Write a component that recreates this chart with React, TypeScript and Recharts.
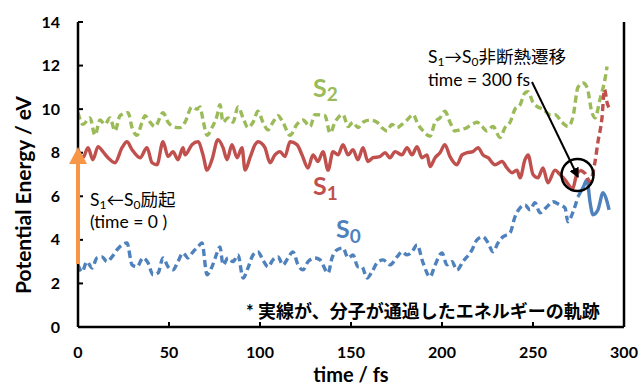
import { LineChart, Line, XAxis, YAxis } from "recharts"

// time (fs) / energy (eV)
const S2_T = [0, 2.7, 6.6, 9.3, 12.1, 14.8, 17.6, 20.3, 23.1, 27.5, 29.7, 32.4, 35.2, 36.8, 39.6, 42.3, 46.7, 49.5, 52.2, 56, 58.8, 62.6, 65.4, 67, 68.7, 70.9, 73.6, 76.4, 78, 79.7, 82.4, 85.2, 87.9, 90.7, 93.4, 96.2, 98.9, 101.6, 104.4, 107.1, 109.9, 112.6, 116.5, 120.3, 123.6, 127.5, 130.2, 135.7, 138.5, 141.2, 145.6, 148.4, 151.1, 153.8, 156.6, 160.4, 164.3, 167, 169.8, 172.5, 175.3, 178, 180.8, 184.1, 186.8, 189.6, 193.4, 196.2, 198.9, 201.6, 204.4, 207.1, 209.9, 213.7, 216.5, 219.2, 222, 224.7, 228, 231.9, 234.6, 237.4, 240.1, 242.9, 245.6, 247.3, 250, 252.7, 255.5, 259.3, 262.1, 265.9, 269.2, 272, 274.7, 277.5, 279.7, 282.4, 284.1, 286.8, 289.6, 290.7]
const S2_E = [9.84, 9.3, 9.6, 8.8, 9.5, 9.3, 9.6, 9.0, 9.7, 9.84, 9.15, 8.8, 9.4, 9.7, 9.4, 9.2, 9.84, 9.4, 9.2, 9.15, 9.4, 10.1, 10.0, 10.1, 9.5, 8.8, 9.15, 9.7, 10.2, 9.4, 9.6, 9.4, 10.1, 9.6, 9.15, 9.4, 9.9, 9.4, 9.05, 9.4, 9.7, 9.4, 8.8, 9.3, 9.5, 9.2, 9.75, 9.7, 8.9, 9.4, 9.75, 9.2, 9.4, 9.15, 9.4, 9.5, 9.4, 9.15, 9.0, 9.3, 9.15, 9.3, 9.5, 9.75, 9.3, 9.0, 8.75, 9.4, 9.6, 9.9, 9.4, 9.0, 9.05, 9.15, 9.3, 9.4, 9.2, 9.0, 9.2, 8.7, 9.15, 9.4, 10.0, 10.2, 10.75, 10.8, 10.3, 10.1, 10.0, 9.75, 9.75, 9.4, 9.2, 9.66, 11.0, 11.2, 11.0, 9.84, 9.6, 10.45, 11.4, 11.96]

const S1_T = [0, 2.7, 5.5, 8.2, 11, 13.7, 16.5, 20.3, 24.2, 26.9, 29.7, 34.1, 37.9, 40.7, 43.4, 46.7, 49.5, 52.2, 54.9, 57.7, 58.8, 62.6, 65.9, 68.7, 70.9, 73.6, 76.9, 79.7, 81.9, 84.6, 87.4, 90.1, 91.8, 94.5, 97.3, 98.9, 102.7, 105.5, 108.2, 111, 113.7, 116.5, 120.3, 123.1, 126.4, 129.1, 131.9, 134.6, 137.4, 140.1, 142.9, 145.6, 148.4, 151.1, 153.8, 156.6, 159.3, 162.1, 165.9, 168.7, 171.4, 174.2, 178, 180.8, 183.5, 186.3, 189, 191.8, 193.4, 196.2, 198.9, 201.6, 204.4, 208.2, 211, 213.7, 217, 219.8, 222.5, 225.3, 229.1, 233, 235.7, 238.5, 241.2, 242.9, 245.6, 247.3, 250, 252.7, 255.5, 258.2, 262.1, 264.8, 267.6, 270.3, 271.6, 274, 275.8, 278.6, 281.3, 284.1, 285.7, 287.9, 289.3, 290.7, 292.3]
const S1_E = [8.14, 7.77, 8.23, 7.68, 8.28, 8.05, 7.77, 7.54, 8.23, 8.5, 8.14, 7.77, 8.23, 7.54, 7.45, 8.5, 7.82, 8.05, 7.68, 8.23, 7.9, 8.37, 8.5, 7.9, 7.2, 7.68, 8.6, 8.23, 7.68, 8.37, 7.77, 8.23, 7.2, 7.77, 8.37, 8.5, 8.23, 7.54, 7.9, 8.05, 7.82, 8.5, 8.37, 7.9, 7.3, 7.9, 7.6, 8.05, 7.2, 8.05, 7.9, 8.37, 7.9, 8.14, 7.68, 8.23, 7.6, 7.77, 7.82, 8.0, 7.77, 8.05, 7.9, 8.23, 7.9, 8.28, 7.77, 7.9, 7.36, 7.77, 8.0, 8.37, 7.82, 7.45, 7.9, 8.0, 8.05, 8.23, 7.9, 7.77, 7.45, 7.6, 7.3, 7.08, 7.2, 6.85, 7.68, 7.9, 7.0, 6.85, 7.3, 6.62, 7.2, 7.0, 6.76, 6.44, 6.3, 7.0, 7.2, 7.05, 6.67, 7.6, 8.5, 9.6, 10.9, 10.3, 10.0]
const S1_HOP = 275.8

const S0_T = [0, 2.2, 4.9, 7.7, 10.4, 13.2, 15.9, 18.7, 21.4, 24.2, 26.9, 29.7, 32.4, 35.7, 38.5, 41.2, 44, 46.7, 49.5, 52.2, 54.9, 57.7, 60.4, 63.2, 65.9, 68.1, 70.9, 73.6, 76.4, 78, 79.7, 82.4, 85.2, 87.9, 90.7, 93.4, 96.2, 98.9, 101.6, 104.4, 107.1, 109.9, 112.6, 115.4, 118.1, 120.9, 123.6, 126.4, 130.2, 133, 137.4, 139.6, 142.3, 145.6, 148.4, 151.1, 153.8, 156, 158.8, 161.5, 164.3, 167.6, 171.4, 175.3, 178, 180.8, 183.5, 186.3, 189.6, 193.4, 196.2, 200, 202.7, 205.5, 208.2, 211.5, 216.5, 219.2, 222.5, 225.3, 228, 230.8, 233.5, 237.4, 240.1, 242.9, 245.6, 248.4, 251.1, 253.8, 257.7, 261, 264.8, 267.6, 269.2, 272, 274.7, 277.5, 279.7, 281.3, 283, 285.7, 288.5, 290.7, 291.8]
const S0_E = [2.85, 2.53, 3.0, 2.71, 3.17, 3.22, 3.0, 3.22, 3.54, 3.77, 3.86, 2.85, 2.76, 3.17, 2.94, 2.4, 2.48, 3.17, 2.76, 2.62, 3.0, 3.4, 3.17, 3.45, 3.68, 3.86, 2.4, 2.76, 3.4, 3.68, 2.85, 3.17, 3.0, 3.31, 2.25, 2.71, 3.31, 3.45, 3.08, 2.76, 3.08, 3.22, 2.85, 3.17, 3.45, 2.85, 2.62, 3.0, 3.17, 3.08, 2.48, 3.17, 3.54, 3.63, 3.17, 3.31, 2.76, 2.76, 2.25, 2.53, 2.94, 3.08, 2.85, 3.22, 3.45, 3.31, 3.45, 3.77, 2.94, 2.3, 2.85, 3.4, 2.85, 3.0, 2.62, 3.0, 3.54, 4.0, 4.14, 3.86, 3.45, 3.86, 4.14, 4.32, 5.06, 5.47, 5.6, 5.38, 5.7, 5.24, 5.52, 5.75, 5.6, 5.47, 4.83, 5.29, 5.98, 6.4, 6.76, 5.75, 5.15, 5.38, 6.16, 5.75, 5.38]
const S0_HOP = 274.7

const X_TICKS = [0, 50, 100, 150, 200, 250, 300]
const Y_TICKS = [0, 2, 4, 6, 8, 10, 12, 14]

const GREEN = "#9BBB59"
const RED = "#C0504D"
const BLUE = "#4F81BD"
const ORANGE = "#F79646"

const toPoints = (ts: number[], es: number[]) => ts.map((t, i) => ({ t, e: es[i] }))

const s2 = toPoints(S2_T, S2_E)
const s1 = toPoints(S1_T, S1_E)
const s0 = toPoints(S0_T, S0_E)
const s1Solid = s1.filter((p) => p.t <= S1_HOP)
const s1Dashed = s1.filter((p) => p.t >= S1_HOP)
const s0Dashed = s0.filter((p) => p.t <= S0_HOP)
const s0Solid = s0.filter((p) => p.t >= S0_HOP)

const tickFont = { fontFamily: "Lato, sans-serif", fontWeight: 700, fontSize: 16, fill: "#000" }

function YTick({ x, y, payload }: any) {
  return (
    <g>
      {payload.value > 0 && <line x1={x} x2={x + 5} y1={y} y2={y} stroke="#000" strokeWidth={2} />}
      <text x={x - 18} y={y} dy="0.35em" textAnchor="end" {...tickFont}>
        {payload.value}
      </text>
    </g>
  )
}

function XTick({ x, y, payload }: any) {
  return (
    <g>
      {payload.value > 0 && payload.value < 300 && (
        <line x1={x} x2={x} y1={y} y2={y - 5} stroke="#000" strokeWidth={2} />
      )}
      <text x={x} y={y + 31} textAnchor="middle" {...tickFont}>
        {payload.value}
      </text>
    </g>
  )
}

const dash = "7 4"
const lw = 3.4

export default function App() {
  const txt = { fontFamily: "Lato, 'Noto Sans CJK JP', sans-serif", fill: "#000" }
  return (
    <div style={{ position: "absolute", left: 0, top: 0, width: 641, height: 388, background: "#fff" }}>
      <LineChart width={641} height={388} margin={{ top: 22, right: 0, bottom: 0, left: 0 }}>
        <XAxis
          dataKey="t"
          type="number"
          domain={[0, 300]}
          ticks={X_TICKS}
          height={61}
          tickSize={0}
          tickMargin={0}
          tick={<XTick />}
          axisLine={{ stroke: "#000", strokeWidth: 2.5 }}
          tickLine={false}
          allowDataOverflow
        />
        <XAxis xAxisId="top" orientation="top" type="number" domain={[0, 300]} height={0} tick={false} tickLine={false} axisLine={{ stroke: "#000", strokeWidth: 2.5 }} />
        <YAxis
          type="number"
          domain={[0, 14]}
          ticks={Y_TICKS}
          width={78}
          tickSize={0}
          tickMargin={0}
          tick={<YTick />}
          axisLine={{ stroke: "#000", strokeWidth: 2.5 }}
          tickLine={false}
        />
        <YAxis yAxisId="right" orientation="right" type="number" domain={[0, 14]} width={17} tick={false} tickLine={false} axisLine={{ stroke: "#000", strokeWidth: 2.5 }} />
        <Line data={s2} dataKey="e" type="monotone" stroke={GREEN} strokeWidth={lw} strokeDasharray={dash} dot={false} isAnimationActive={false} />
        <Line data={s0Dashed} dataKey="e" type="monotone" stroke={BLUE} strokeWidth={lw} strokeDasharray={dash} dot={false} isAnimationActive={false} />
        <Line data={s0Solid} dataKey="e" type="monotone" stroke={BLUE} strokeWidth={lw} dot={false} isAnimationActive={false} />
        <Line data={s1Dashed} dataKey="e" type="monotone" stroke={RED} strokeWidth={lw} strokeDasharray={dash} dot={false} isAnimationActive={false} />
        <Line data={s1Solid} dataKey="e" type="monotone" stroke={RED} strokeWidth={lw} dot={false} isAnimationActive={false} />
      </LineChart>
      <svg width={641} height={388} style={{ position: "absolute", left: 0, top: 0, pointerEvents: "none" }}>
        <defs>
          <marker id="blk" markerWidth="10" markerHeight="10" refX="9" refY="5" orient="auto" markerUnits="userSpaceOnUse">
            <path d="M0,0 L10,5 L0,10 z" fill="#000" />
          </marker>
        </defs>
        {/* excitation arrow */}
        <line x1={78} y1={264} x2={78} y2={162} stroke={ORANGE} strokeWidth={4} />
        <path d="M69,164 L87,164 L78,147 z" fill={ORANGE} />
        {/* hop marker */}
        <line x1={532} y1={82} x2={578} y2={177} stroke="#000" strokeWidth={2} markerEnd="url(#blk)" />
        <circle cx={577.5} cy={175} r={16} fill="none" stroke="#000" strokeWidth={2.5} />

        <text x={313} y={97} fill={GREEN} fontFamily="Lato, sans-serif" fontSize={25} fontWeight={700}>
          S<tspan fontSize={19} dy={4}>2</tspan>
        </text>
        <text x={313} y={195} fill={RED} fontFamily="Lato, sans-serif" fontSize={25} fontWeight={700}>
          S<tspan fontSize={19} dy={5}>1</tspan>
        </text>
        <text x={336} y={238} fill={BLUE} fontFamily="Lato, sans-serif" fontSize={25} fontWeight={700}>
          S<tspan fontSize={19} dy={5}>0</tspan>
        </text>

        <text x={90} y={206} fontSize={17.5} {...txt}>
          S<tspan fontSize={12} dy={3}>1</tspan>
          <tspan dy={-3}>←S</tspan>
          <tspan fontSize={12} dy={3}>0</tspan>
          <tspan dy={-3}>励起</tspan>
        </text>
        <text x={90} y={228} fontSize={17.5} {...txt}>(time = 0 )</text>

        <text x={428} y={63} fontSize={17.5} {...txt}>
          S<tspan fontSize={12} dy={3}>1</tspan>
          <tspan dy={-3}>→S</tspan>
          <tspan fontSize={12} dy={3}>0</tspan>
          <tspan dy={-3}>非断熱遷移</tspan>
        </text>
        <text x={428} y={86} fontSize={17.5} {...txt}>time = 300 fs</text>

        <text x={246} y={318} fontSize={18} fontWeight={700} {...txt}>
          * 実線が、分子が通過したエネルギーの軌跡
        </text>

        <text x={351} y={382} textAnchor="middle" fontSize={20} fontWeight={700} {...txt}>time / fs</text>
        <text
          transform="translate(31,195) rotate(-90)"
          textAnchor="middle"
          fontSize={21}
          fontWeight={700}
          {...txt}
        >
          Potential Energy / eV
        </text>
      </svg>
    </div>
  )
}
